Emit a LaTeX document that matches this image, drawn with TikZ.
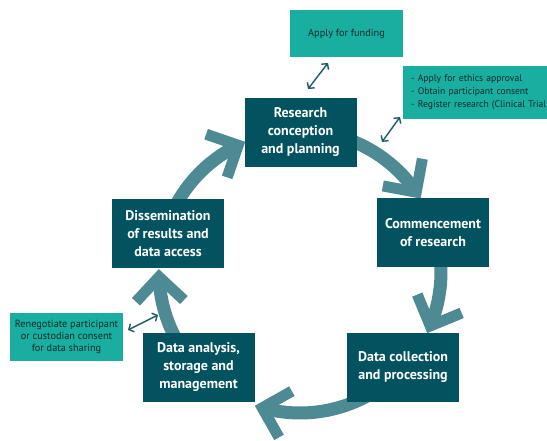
\documentclass[tikz,border=0pt]{standalone}
\usepackage{fontspec}
\setmainfont{PT Sans}
\usetikzlibrary{arrows.meta,decorations.markings}
\definecolor{darkbox}{HTML}{02535F}
\definecolor{lightbox}{HTML}{19AE9F}
\definecolor{arccol}{HTML}{4E8A93}
\definecolor{thincol}{HTML}{1C5C65}
\definecolor{darktext}{HTML}{122A2A}
\tikzset{
  stage/.style={fill=darkbox, text=white, minimum width=112pt, minimum height=69pt,
    inner sep=0pt, align=center, font=\fontsize{14}{18}\selectfont\bfseries},
  note/.style={fill=lightbox, text=darktext, minimum width=113pt, minimum height=47pt,
    inner sep=0pt, align=center, font=\fontsize{10.3}{12.5}\selectfont},
  arcline/.style={draw=arccol, line width=13pt, line cap=butt},
  chevstroke/.style={draw=arccol, line width=11pt, line join=miter, line cap=butt},
  chevron/.style={decoration={markings, mark=at position 1 with {\draw[chevstroke] (-24,24) -- (0,0) -- (-24,-24);}}, postaction={decorate}},
  link/.style={draw=thincol, line width=1.4pt, {Straight Barb[length=4pt,width=9pt]}-{Straight Barb[length=4pt,width=9pt]}},
}
\begin{document}
\begin{tikzpicture}[x=1pt,y=1pt]
\useasboundingbox (0,0) rectangle (547,441);
\clip (0,0) rectangle (547,441);
\fill[white] (0,0) rectangle (547,441);
\coordinate (C) at (300,169);
% cycle arcs
\draw[arcline, chevron] (C) ++(75:141) arc[start angle=75, end angle=34.5, radius=141];
\draw[arcline, chevron] (C) ++(10:141) arc[start angle=10, end angle=-22.5, radius=141];
\draw[arcline, chevron] (C) ++(-55:141) arc[start angle=-55, end angle=-105.5, radius=141];
\draw[arcline, chevron] (C) ++(-125:141) arc[start angle=-125, end angle=-178, radius=141];
\draw[arcline, chevron] (C) ++(-195:141) arc[start angle=-195, end angle=-244, radius=141];
% stages
\node[stage] (plan) at (300.5,308.5) {Research\\conception\\and planning};
\node[stage] (comm) at (433,208) {Commencement\\of research};
\node[stage] (coll) at (403,73.5) {Data collection\\and processing};
\node[stage] (anal) at (198.5,73.5) {Data analysis,\\storage and\\management};
\node[stage] (diss) at (168,207.5) {Dissemination\\of results and\\data access};
% notes
\node[note] (fund) at (346.5,407.5) {Apply for funding};
\node[note, anchor=west, minimum width=150pt, minimum height=53pt, text width=140pt,
  align=left, inner xsep=8pt, font=\fontsize{9.6}{13}\selectfont] (eth) at (403,348.5)
  {- Apply for ethics approval\\- Obtain participant consent\\- Register research (Clinical Trial};
\node[note, minimum height=48pt, font=\fontsize{10.3}{12}\selectfont] (reneg) at (66.5,104)
  {Renegotiate participant\\or custodian consent\\for data sharing};
% thin links
\coordinate (f1) at (308,352);
\coordinate (f2) at (328,378);
\coordinate (e1) at (382,299);
\coordinate (e2) at (400,324);
\coordinate (r1) at (128,111);
\coordinate (r2) at (158,126);
\draw[link] (f1) -- (f2);
\draw[link] (e1) -- (e2);
\draw[link] (r1) -- (r2);
\end{tikzpicture}
\end{document}
